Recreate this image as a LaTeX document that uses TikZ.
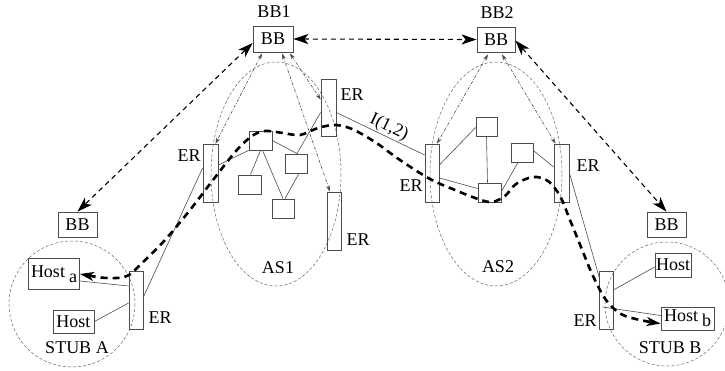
\documentclass[tikz,border=0pt]{standalone}
\usepackage{fontspec}
\setmainfont{Liberation Serif}
\usetikzlibrary{arrows.meta,calc}
\begin{document}
\begin{tikzpicture}[x=1pt,y=-1pt,
  every node/.style={font=\fontsize{18}{20}\selectfont},
  box/.style={draw=black!70,line width=0.8pt,inner sep=0pt,rectangle},
  bbbox/.style={box,minimum width=39pt,minimum height=25pt},
  erbox/.style={box,minimum width=14pt,minimum height=58pt},
  sbox/.style={box,minimum width=22pt,minimum height=19pt},
  lbl/.style={inner sep=0pt},
  area/.style={draw=black!60,line width=0.5pt,dash pattern=on 3pt off 2pt},
  link/.style={draw=black!70,line width=0.6pt},
  ctl/.style={draw=black!70,line width=0.6pt,dash pattern=on 3pt off 1.5pt on 0.8pt off 1.5pt,
     {Stealth[length=6pt,width=4pt]}-{Stealth[length=6pt,width=4pt]}},
  sig/.style={draw=black,line width=1.1pt,dash pattern=on 5pt off 4pt,
     {Stealth[length=15pt,width=10pt,inset=4pt]}-{Stealth[length=15pt,width=10pt,inset=4pt]}},
  data/.style={draw=black,line width=2.6pt,dash pattern=on 7pt off 5pt,
     {Stealth[length=14pt,width=9pt,inset=4pt]}-{Stealth[length=14pt,width=9pt,inset=4pt]}}
]
\useasboundingbox (0,0) rectangle (725,370);

% areas
\draw[area] (276,174) ellipse [x radius=65, y radius=112];
\draw[area] (496,174) ellipse [x radius=66, y radius=112];
\draw[area] (72,304) circle [radius=63];
\draw[area] (667,304) circle [radius=62];

% BB nodes
\node[bbbox,minimum width=40pt,minimum height=26pt] (bb1) at (273,39) {BB};
\node[bbbox,minimum width=38pt] (bb2) at (496,39.5) {BB};
\node[bbbox] (bbl) at (77.5,224.5) {BB};
\node[bbbox] (bbr) at (666.5,224.5) {BB};
\node[lbl] (bb1t) at (274,12) {BB1};
\node[lbl] (bb2t) at (497,13) {BB2};

% ER nodes
\node[erbox] (erA) at (136,300) {};
\node[erbox,minimum width=15pt] (erL) at (210.5,173) {};
\node[erbox,minimum width=15pt,minimum height=57pt] (erT) at (328.5,107.5) {};
\node[erbox] (erB) at (334,221) {};
\node[erbox] (er2L) at (432,173) {};
\node[erbox,minimum width=15pt] (er2R) at (561.5,173) {};
\node[erbox] (erBB) at (606,300) {};

\node[lbl] (erAt) at (160,318) {ER};
\node[lbl] (erLt) at (189,156) {ER};
\node[lbl] (erTt) at (352,95) {ER};
\node[lbl] (erBt) at (358,240) {ER};
\node[lbl] (er2Lt) at (411,186) {ER};
\node[lbl] (er2Rt) at (588,166) {ER};
\node[lbl] (erBBt) at (585,321) {ER};

% hosts
\node[box,minimum width=51pt,minimum height=31pt] (hostA) at (54,274) {Host\kern4pt\raisebox{-5pt}{a}};
\node[box,minimum width=41pt,minimum height=23pt] (host1) at (73.5,321.5) {Host};
\node[box,minimum width=36pt,minimum height=24pt] (hostB1) at (673,265) {Host};
\node[box,minimum width=53pt,minimum height=23pt] (hostBb) at (687.5,318.5) {Host\kern4pt\raisebox{-5pt}{b}};

% AS1 internal routers
\node[sbox,minimum width=23pt] (a1) at (260.5,140.5) {};
\node[sbox] (a2) at (296,163.5) {};
\node[sbox,minimum width=23pt] (a3) at (249.5,184.5) {};
\node[sbox] (a4) at (283,208.5) {};
% AS2 internal routers
\node[sbox,minimum width=21pt] (b1) at (486.5,126.5) {};
\node[sbox] (b2) at (522,152.5) {};
\node[sbox,minimum width=23pt] (b3) at (489.5,192.5) {};

% labels
\node[lbl] (as1) at (278,268) {AS1};
\node[lbl] (as2) at (498,267) {AS2};
\node[lbl] (stA) at (77,348) {STUB A};
\node[lbl] (stB) at (670,348) {STUB B};

% links
\draw[link] ($(hostA.east)+(0,7)$) -- ($(erA.west)+(0,-14)$);
\draw[link] (host1.east) -- ($(erA.west)+(0,3)$);
\draw[link] ($(erA.east)+(0,-3)$) -- ($(erL.west)+(0,-5)$);
\draw[link] ($(erL.east)+(0,-8)$) -- (a1.south west);
\draw[link] ($(a1.south)+(0,0)$) -- ($(a3.north)+(1,0)$);
\draw[link] ($(a1.south)+(2,0)$) -- (a4.north);
\draw[link] ($(a1.east)+(0,0)$) -- ($(a2.north)+(1,0)$);
\draw[link] ($(a2.south)+(3,0)$) -- ($(a4.north)+(2,0)$);
\draw[link] ($(a2.north)+(1,0)$) -- ($(erT.west)+(0,5)$);
\draw[link] ($(erT.east)+(0,5)$) -- node[lbl,sloped,above=1pt,pos=0.55] (i12) {I(1,2)} ($(er2L.west)+(0,-18)$);
\draw[link] ($(er2L.east)+(0,-8)$) -- ($(b1.west)+(0,1)$);
\draw[link] ($(er2L.east)+(0,5)$) -- ($(b3.west)+(0,-4)$);
\draw[link] (b1.south) -- ($(b3.north)+(-2,0)$);
\draw[link] ($(b2.south)+(-4,0)$) -- ($(b3.east)+(0,-1)$);
\draw[link] ($(b2.east)+(0,-2)$) -- ($(er2R.west)+(0,-6)$);
\draw[link] ($(er2R.east)+(0,0)$) -- ($(erBB.north west)+(1,8)$);
\draw[link] ($(erBB.east)+(0,-10)$) -- ($(hostB1.west)+(0,2)$);
\draw[link] ($(erBB.west)+(4,7)$) -- ($(hostBb.west)+(0,-3)$);

% control (dash-dot) arrows
\draw[ctl] ($(bb1.south)+(-11,1)$) -- ($(erL.north)+(5,0)$);
\draw[ctl] ($(bb1.south)+(17,1)$) -- ($(erT.west)+(0,-8)$);
\draw[ctl] ($(bb1.south)+(9,1)$) -- ($(erB.north)+(-4,0)$);
\draw[ctl] ($(bb2.south)+(-8,2)$) -- ($(er2L.north)+(5,0)$);
\draw[ctl] ($(bb2.south)+(6,2)$) -- ($(er2R.north)+(-6,0)$);

% signalling arrows
\draw[sig] (bb1.east) -- (bb2.west);
\draw[sig] ($(bb1.west)+(0,4)$) -- (bbl.north);
\draw[sig] ($(bb2.east)+(0,1)$) -- (bbr.north);

% data path
\draw[data] plot[smooth,tension=0.55] coordinates {
  (hostA.east) (108,278) (127,276) (141,264) (165,240) (190,210) (213,180) (236,151)
  (252,136) (265,131) (283,133) (300,135) (318,128) (335,125) (352,129) (375,142)
  (400,160) (430,179) (455,190) (478,199) (492,202) (505,196) (516,184) (533,177)
  (548,181) (560,196) (570,220) (581,247) (593,276) (606,300) (621,314) (640,320)
  ($(hostBb.west)+(0,5)$)};
\end{tikzpicture}
\end{document}
